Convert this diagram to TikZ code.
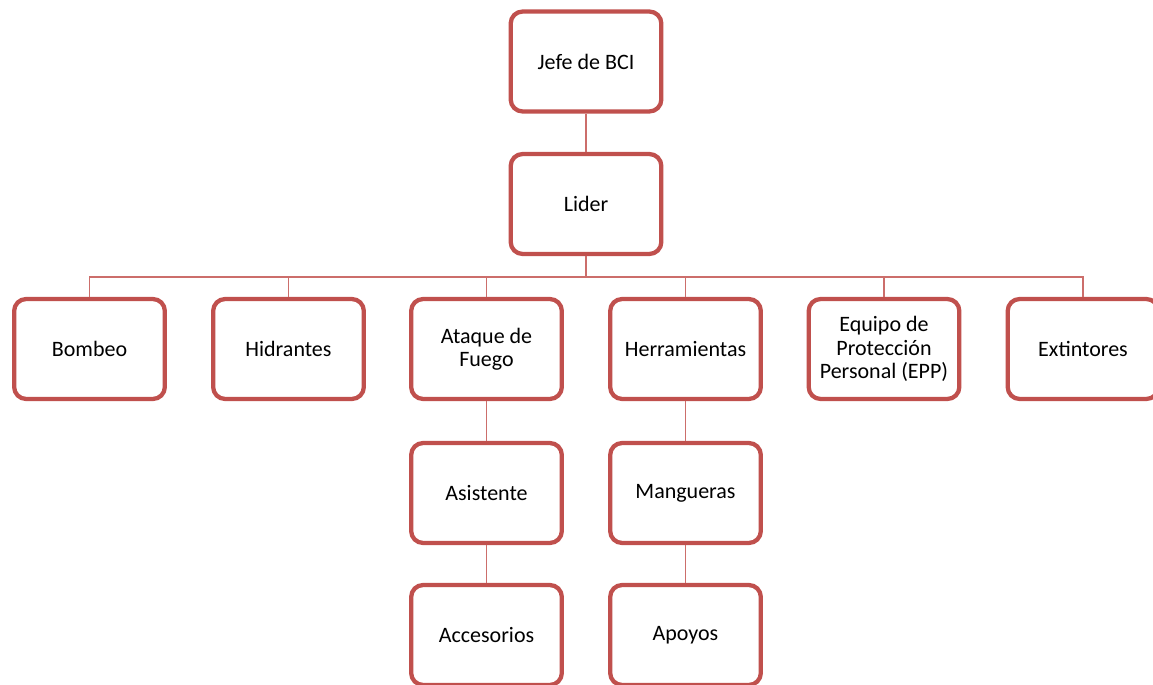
\documentclass[tikz,border=0pt]{standalone}
\usepackage{fontspec}
\setmainfont{Carlito}
\usetikzlibrary{positioning}
\definecolor{boxred}{HTML}{C0504D}
\definecolor{linkred}{HTML}{CC6E6B}

\begin{document}
\begin{tikzpicture}[x=0.75pt, y=-0.75pt,
	unidad/.style={draw=boxred, line width=3.2pt, rounded corners=9pt, fill=white,
		minimum width=113pt, minimum height=75pt, inner sep=2pt, align=center,
		font=\fontsize{16.5}{17.5}\selectfont},
	enlace/.style={draw=linkred, line width=1.4pt}]
	\useasboundingbox (0,0) rectangle (1153,685);

	\node[unidad] (jefe) at (586,61.5) {Jefe de BCI};
	\node[unidad] (lider) at (586,204) {Lider};
	\coordinate (bus) at (586,277);
	\draw[enlace] (jefe.south) -- (lider.north);
	\draw[enlace] (lider.south) -- (bus);

	\foreach \n/\x/\t in {bombeo/89.5/{Bombeo}, hidrantes/288.5/{Hidrantes},
		ataque/486.5/{Ataque de\\Fuego}, herramientas/685.5/{Herramientas},
		epp/884/{Equipo de\\Protección\\Personal (EPP)}, extintores/1083/{Extintores}}
	{
		\node[unidad] (\n) at (\x,349) {\t};
		\draw[enlace] (bus) -| (\n.north);
	}

	\node[unidad] (asistente) at (486.5,493) {Asistente};
	\node[unidad] (accesorios) at (486.5,635) {Accesorios};
	\node[unidad] (mangueras) at (685.5,493) {Mangueras};
	\node[unidad] (apoyos) at (685.5,635) {Apoyos};
	\draw[enlace] (ataque.south) -- (asistente.north);
	\draw[enlace] (asistente.south) -- (accesorios.north);
	\draw[enlace] (herramientas.south) -- (mangueras.north);
	\draw[enlace] (mangueras.south) -- (apoyos.north);
\end{tikzpicture}
\end{document}
